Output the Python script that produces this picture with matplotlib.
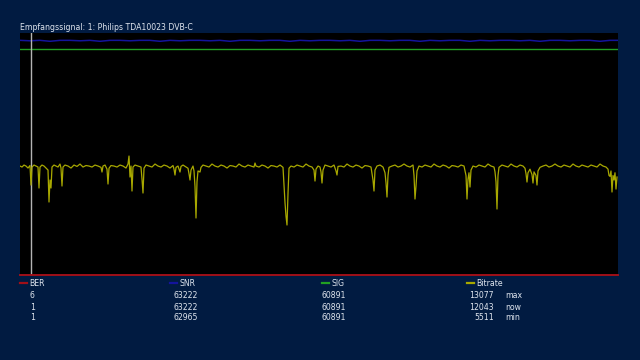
import matplotlib
matplotlib.use("Agg")
import matplotlib.pyplot as plt
from matplotlib.lines import Line2D

BG = "#011b41"
TXT = "#dfe5ee"

title = "Empfangssignal: 1: Philips TDA10023 DVB-C"

# bitrate trace (sample index, value)
bitrate_t = [
    0, 2, 4, 6, 8, 10, 11, 12, 14, 16, 18, 19, 20, 22, 24, 26,
    28, 29, 30, 31, 32, 34, 36, 38, 40, 41, 42, 43, 45, 48, 51, 54,
    57, 60, 63, 66, 69, 72, 75, 78, 81, 82, 83, 85, 87, 88, 89, 91,
    94, 97, 100, 103, 106, 108, 109, 110, 111, 112, 113, 115, 118, 121,
    122, 123, 124, 126, 129, 132, 135, 138, 141, 144, 147, 150, 153, 154,
    155, 156, 158, 160, 161, 163, 166, 168, 169, 170, 171, 173, 174, 175,
    176, 177, 178, 180, 181, 183, 186, 189, 192, 195, 198, 201, 204, 207,
    210, 213, 216, 219, 222, 225, 228, 231, 234, 235, 236, 239, 242, 245,
    248, 251, 254, 257, 260, 263, 264, 265, 266, 267, 268, 269, 271, 274,
    277, 280, 283, 286, 289, 292, 294, 295, 296, 298, 300, 301, 302, 303,
    305, 308, 311, 314, 316, 317, 318, 321, 324, 327, 330, 333, 336, 339,
    342, 345, 348, 351, 352, 353, 354, 355, 357, 360, 363, 365, 366, 367,
    368, 369, 372, 375, 378, 381, 384, 387, 390, 393, 394, 395, 396, 397,
    399, 402, 405, 408, 411, 414, 417, 420, 423, 426, 429, 432, 435, 438,
    441, 444, 446, 447, 448, 449, 450, 451, 453, 456, 459, 462, 465, 468,
    471, 474, 475, 476, 477, 478, 479, 482, 485, 488, 491, 494, 497, 500,
    503, 505, 506, 507, 508, 510, 512, 513, 514, 516, 517, 518, 520, 523,
    526, 529, 532, 535, 538, 541, 544, 547, 550, 553, 556, 559, 562, 565,
    568, 571, 574, 577, 580, 583, 586, 588, 589, 590, 591, 592, 593, 594,
    595, 596, 597,
]
bitrate = [
    12045, 11934, 12155, 12045, 11824, 12100, 9945, 11934, 12155, 12045, 11934, 9614, 11934, 12155, 12045, 11824,
    11603, 8067, 10500, 9614, 11934, 12155, 12045, 11934, 12266, 11824, 9835, 11934, 12155, 12045, 11824, 12155,
    12000, 12266, 11934, 12100, 12045, 11934, 12155, 12045, 11900, 11382, 12045, 12155, 11700, 10056, 11800, 12100,
    12045, 11934, 12155, 12045, 11824, 12266, 13150, 10829, 12045, 9282, 11934, 12155, 12045, 11934,
    10600, 9061, 11800, 12155, 12045, 11934, 12266, 12045, 11934, 12155, 12045, 11824, 12100, 11700,
    11050, 11900, 12045, 11382, 12000, 12155, 11934, 11800, 11200, 10498, 11600, 12045, 11500, 9800,
    6299, 10300, 11500, 11382, 11900, 12155, 12045, 11934, 12266, 12045, 11934, 12155, 12045, 11824,
    12100, 12045, 11934, 12266, 12045, 11934, 12155, 12045, 11934, 12376, 12045, 11934, 12155, 12045,
    11824, 12100, 12045, 11934, 12155, 11900, 10000, 8000, 6500, 5525, 9000, 11800, 12045, 11934,
    12155, 12045, 11934, 12266, 12045, 11934, 11600, 10387, 11700, 12045, 11934, 11400, 10166, 11600,
    12155, 12045, 11934, 12155, 11500, 11050, 12000, 12045, 11934, 12266, 12045, 11934, 12155, 12045,
    11824, 12100, 12045, 11934, 11200, 10500, 9282, 11600, 12045, 12155, 11934, 11300, 10200, 8619,
    11000, 11900, 12045, 12155, 11934, 12045, 12266, 12045, 11934, 12155, 11000, 8398, 9800, 11500,
    12045, 11934, 12155, 12045, 11934, 12266, 12045, 11934, 12155, 12045, 11824, 12100, 12045, 11934,
    12155, 12045, 11000, 8398, 10600, 11300, 9724, 11600, 12045, 11934, 12155, 12045, 11934, 12266,
    12045, 11934, 11400, 10300, 7293, 11000, 11900, 12155, 12045, 11934, 12266, 12045, 11934, 12155,
    12045, 11800, 11200, 10277, 11300, 11700, 11100, 10166, 11400, 11000, 9945, 11500, 11900, 12045,
    12155, 11934, 12045, 12266, 12045, 11934, 12155, 12045, 11934, 12266, 12045, 11934, 12155, 12045,
    11934, 12155, 12045, 11934, 12266, 12045, 11934, 11700, 11000, 10900, 11500, 9172, 11000, 10500,
    11300, 9500, 10829,
]

# SNR sampled every 10 samples
snr_t = list(range(0, 601, 10))
snr = [
    63222, 63100, 63222, 62965, 63222, 63222, 63100, 63222, 62965, 63222,
    63222, 63100, 63222, 63222, 62965, 63222, 63100, 63222, 63222, 63100,
    63222, 62965, 63222, 63222, 63100, 63222, 63222, 62965, 63222, 63100,
    63222, 63222, 63100, 63222, 62965, 63222, 63222, 63100, 63222, 63222,
    62965, 63222, 63100, 63222, 63222, 62965, 63222, 63100, 63222, 63222,
    63100, 63222, 62965, 63222, 63222, 63100, 63222, 63222, 62965, 63222,
    63222,
]
sig_t = [0, 598]
sig = [60891, 60891]
ber_t = [0, 598]
ber = [1, 1]
cursor_t = 11

legend_names = ["BER", "SNR", "SIG", "Bitrate"]
legend_colors = ["#a01018", "#14149c", "#22a022", "#a8a800"]
legend_x = [20, 170, 322, 467]
value_rows = [
    ["6", "63222", "60891", "13077", "max"],
    ["1", "63222", "60891", "12043", "now"],
    ["1", "62965", "60891", "5511", "min"],
]

W, H = 640, 360
fig = plt.figure(figsize=(6.4, 3.6), dpi=100, facecolor=BG)

ax = fig.add_axes([20 / W, 1 - 275 / H, 598 / W, 242 / H])
ax.set_facecolor("black")
ax.set_xlim(0, 598)
ax.set_ylim(0, 65200)
for s in ax.spines.values():
    s.set_visible(False)
ax.set_xticks([])
ax.set_yticks([])

ax.plot(snr_t, snr, color=legend_colors[1], lw=1.1)
ax.plot(sig_t, sig, color=legend_colors[2], lw=1.0)
ax.plot(ber_t, ber, color=legend_colors[0], lw=1.4, clip_on=False, zorder=5)
ax.axvline(cursor_t, color="#b4b4b4", lw=1.0, zorder=4)

ax2 = ax.twinx()
ax2.set_ylim(0, 26750)
ax2.set_xlim(0, 598)
ax2.axis("off")
ax2.plot(bitrate_t, bitrate, color="#a8a800", lw=0.9)

fig.text(20 / W, 1 - 27 / H, title, color=TXT, fontsize=5.6,
         family="DejaVu Sans", va="center", ha="left")

# legend row
for name, col, x in zip(legend_names, legend_colors, legend_x):
    fig.add_artist(Line2D([x / W, (x + 7) / W], [1 - 283 / H] * 2,
                          color=col, lw=1.6))
    fig.text((x + 9.5) / W, 1 - 283 / H, name, color=TXT, fontsize=5.6,
             va="center", ha="left")

# value rows
row_y = [296, 307, 318]
for y, row in zip(row_y, value_rows):
    fig.text(30 / W, 1 - y / H, row[0], color=TXT, fontsize=5.6, va="center", ha="left")
    fig.text(173 / W, 1 - y / H, row[1], color=TXT, fontsize=5.6, va="center", ha="left")
    fig.text(322 / W, 1 - y / H, row[2], color=TXT, fontsize=5.6, va="center", ha="left")
    fig.text(494 / W, 1 - y / H, row[3], color=TXT, fontsize=5.6, va="center", ha="right")
    fig.text(505 / W, 1 - y / H, row[4], color=TXT, fontsize=5.6, va="center", ha="left")

fig.savefig("out.png", dpi=100, facecolor=BG)
